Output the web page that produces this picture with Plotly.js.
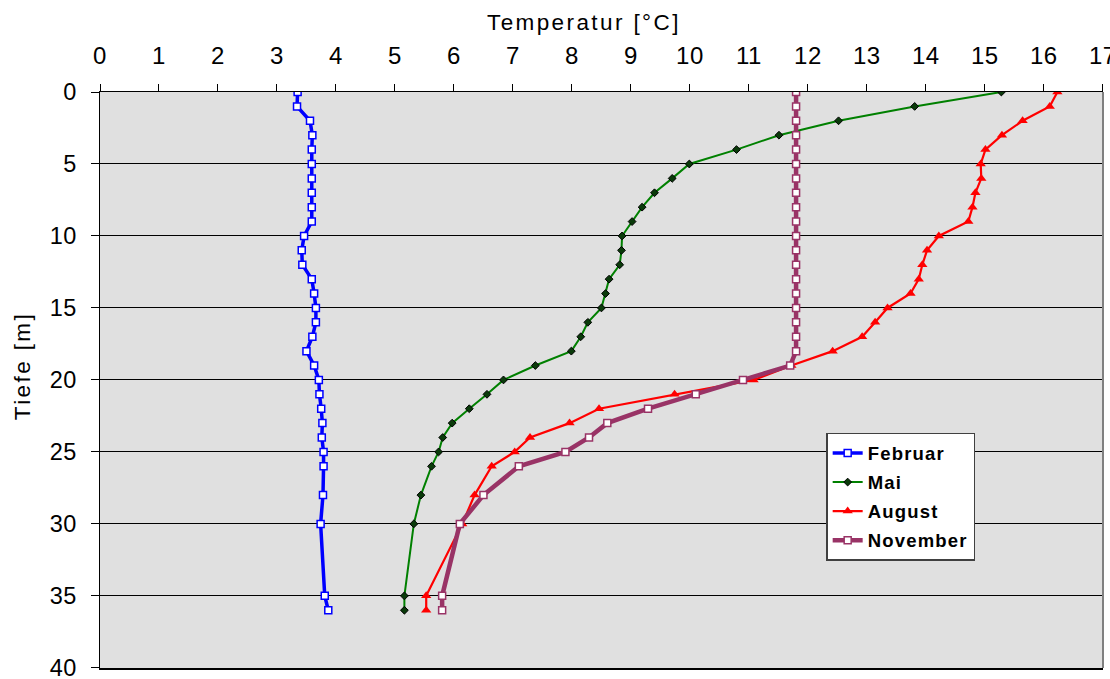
<!DOCTYPE html>
<html>
<head>
<meta charset="utf-8">
<script src="https://cdn.plot.ly/plotly-3.0.1.min.js"></script>
<style>
  html, body { margin: 0; padding: 0; background: #ffffff; }
  #chart { width: 1110px; height: 679px; }
  /* slightly open letter spacing for the chart text */
  .xtick text, .ytick text { letter-spacing: 0.5px; }
  .annotation-text { letter-spacing: 2.4px; }
  .legendtext { letter-spacing: 1.2px; }
</style>
</head>
<body>
<div id="chart"></div>
<script>
// Water temperature profiles by depth for four months
const depths = [0, 1, 2, 3, 4, 5, 6, 7, 8, 9, 10, 11, 12, 13, 14, 15, 16, 17, 18, 19,
                20, 21, 22, 23, 24, 25, 26, 28, 30, 35, 36];

const februar = [3.35, 3.34, 3.56, 3.60, 3.59, 3.59, 3.59, 3.59, 3.59, 3.59,
                 3.46, 3.42, 3.43, 3.59, 3.63, 3.66, 3.66, 3.60, 3.50, 3.63,
                 3.71, 3.72, 3.75, 3.77, 3.76, 3.79, 3.79, 3.78, 3.74, 3.81, 3.87];

const mai = [15.28, 13.81, 12.52, 11.51, 10.79, 9.99, 9.70, 9.40, 9.19, 9.02,
             8.85, 8.84, 8.81, 8.63, 8.57, 8.50, 8.27, 8.15, 7.99, 7.38,
             6.84, 6.56, 6.26, 5.97, 5.81, 5.74, 5.62, 5.44, 5.32, 5.16, 5.16];

const august = [16.23, 16.10, 15.64, 15.29, 15.01, 14.93, 14.94, 14.84, 14.79, 14.72,
                14.22, 14.02, 13.94, 13.88, 13.74, 13.35, 13.14, 12.92, 12.42, 11.72,
                11.08, 9.74, 8.46, 7.96, 7.29, 7.03, 6.64, 6.35, 6.14, 5.53, 5.53];

const november = [11.80, 11.80, 11.80, 11.80, 11.80, 11.80, 11.80, 11.80, 11.80, 11.80,
                  11.80, 11.80, 11.80, 11.80, 11.80, 11.80, 11.80, 11.80, 11.80, 11.70,
                  10.90, 10.10, 9.29, 8.60, 8.29, 7.89, 7.10, 6.50, 6.10, 5.80, 5.80];

const seriesNames = ["Februar", "Mai", "August", "November"];

const tempTicks = [0, 1, 2, 3, 4, 5, 6, 7, 8, 9, 10, 11, 12, 13, 14, 15, 16, 17];
const depthTicks = [0, 5, 10, 15, 20, 25, 30, 35, 40];

const xTitle = "Temperatur [°C]";
const yTitle = "Tiefe [m]";

const font = "Liberation Sans, Arial, sans-serif";

const traces = [
  {
    name: seriesNames[0], legendgroup: "g0", x: februar, y: depths, mode: "lines+markers", type: "scatter",
    line: { color: "#0000ff", width: 3.5 },
    marker: { symbol: "square", size: 7, color: "#ffffff", line: { color: "#0000ff", width: 1.5 } }
  },
  {
    name: seriesNames[1], legendgroup: "g1", x: mai, y: depths, mode: "lines+markers", type: "scatter",
    line: { color: "#008000", width: 2 },
    marker: { symbol: "diamond", size: 6, color: "#0a3a0a", line: { color: "#000000", width: 1 } }
  },
  {
    name: seriesNames[2], legendgroup: "g2", x: august, y: depths, mode: "lines+markers", type: "scatter",
    line: { color: "#ff0000", width: 2.2 },
    marker: { symbol: "triangle-up", size: 9, color: "#ff0000", line: { width: 0 } }
  },
  {
    name: seriesNames[3], legendgroup: "g3", x: november, y: depths, mode: "lines+markers", type: "scatter",
    line: { color: "#993366", width: 4.5 },
    marker: { symbol: "square", size: 7, color: "#ffffff", line: { color: "#993366", width: 1.5 } }
  }
];

const layout = {
  width: 1110,
  height: 679,
  margin: { l: 100, r: 7, t: 92, b: 11 },
  paper_bgcolor: "#ffffff",
  plot_bgcolor: "#e0e0e0",
  font: { family: font, size: 24, color: "#000000" },
  showlegend: true,
  legend: {
    x: 0.724, y: 0.408, xanchor: "left", yanchor: "top",
    bgcolor: "#ffffff", bordercolor: "#404040", borderwidth: 1.5,
    font: { family: font, size: 18.5, color: "#000000", weight: "bold" },
    itemwidth: 30, tracegroupgap: 2
  },
  xaxis: {
    side: "top",
    range: [0, 17.003],
    tickmode: "array", tickvals: tempTicks,
    showgrid: false, zeroline: false,
    showline: true, linecolor: "#000000", linewidth: 1.5, mirror: true,
    ticks: "outside", ticklen: 7, tickcolor: "#000000", tickwidth: 1,
    ticklabelstandoff: 10, ticklabeloverflow: "allow",
    tickfont: { family: font, size: 24 }
  },
  yaxis: {
    range: [40.01, 0],
    tickmode: "array", tickvals: depthTicks,
    showgrid: true, gridcolor: "#000000", gridwidth: 1,
    zeroline: false,
    showline: true, linecolor: "#000000", linewidth: 1.5,
    ticks: "outside", ticklen: 8, tickcolor: "#000000", tickwidth: 1,
    ticklabelstandoff: 9, ticklabeloverflow: "allow",
    tickfont: { family: font, size: 23.5 }
  },
  annotations: [
    { text: xTitle, xref: "paper", yref: "paper", x: 0.4826, y: 1.1215,
      xanchor: "center", yanchor: "middle", showarrow: false,
      font: { family: font, size: 22.5, color: "#000000" } },
    { text: yTitle, xref: "paper", yref: "paper", x: -0.0778, y: 0.524,
      xanchor: "center", yanchor: "middle", showarrow: false, textangle: -90,
      font: { family: font, size: 22.5, color: "#000000" } }
  ],
  shapes: [
    { type: "line", xref: "paper", yref: "paper", x0: 1, x1: 1, y0: 0, y1: 1,
      line: { color: "#808080", width: 2 } }
  ]
};

Plotly.newPlot("chart", traces, layout, { displayModeBar: false, staticPlot: true });
</script>
</body>
</html>
